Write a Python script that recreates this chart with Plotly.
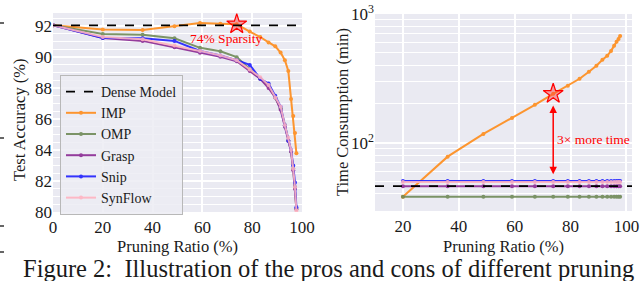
import plotly.graph_objects as go
import math

# ---------------- data ----------------
sparsity = [0, 20, 36, 48.8, 59.04, 67.23, 73.79, 79.03, 83.22, 86.58,
            89.26, 91.41, 93.13, 94.50, 95.60, 96.48, 97.19, 97.75]

acc_imp = [92.06, 91.78, 91.75, 92.0, 92.2, 92.15, 92.12, 91.65, 91.3, 90.95,
           90.7, 90.3, 89.8, 89.1, 87.3, 86.2, 85.1, 83.8]
acc_omp = [92.06, 91.5, 91.45, 91.22, 90.6, 90.38, 90.0, 89.2, 88.6, 88.2,
           87.4, 86.7, 85.6, 84.6, 83.9, 82.8, 81.6, 80.2]
acc_grasp = [92.06, 91.24, 91.05, 90.64, 90.28, 90.03, 89.73, 89.1, 88.6, 88.0,
             87.4, 86.6, 85.5, 84.6, 83.9, 82.7, 81.5, 80.2]
acc_snip = [92.06, 91.24, 91.22, 91.05, 90.4, 90.1, 89.8, 89.5, 88.6, 88.3,
            87.5, 86.8, 85.6, 84.6, 84.0, 83.0, 81.9, 80.3]
acc_synflow = [92.06, 91.3, 91.15, 90.75, 90.4, 90.1, 89.8, 89.2, 88.7, 88.2,
               87.4, 86.8, 85.6, 84.8, 84.0, 82.8, 81.6, 80.1]
acc_dense = 92.05

time_sparsity = sparsity[1:]
time_imp = [38, 78, 117, 156, 197, 240, 277, 314, 356, 396, 441, 473, 517,
            566, 608, 640, 676]
time_omp = [38] * len(time_sparsity)
time_grasp = [46] * len(time_sparsity)
time_snip = [50.5] * len(time_sparsity)
time_synflow = [49.5] * len(time_sparsity)
time_dense = 46

star_sparsity = 73.79
star_acc = 92.12
star_time = 240
arrow_low = 57
arrow_high = 200

x_ticks = [0, 20, 40, 60, 80, 100]
x2_ticks = [20, 40, 60, 80, 100]
y2_ticks = [100, 1000]
y2_ticktext = ["10<sup>2</sup>", "10<sup>3</sup>"]
y2_minor = [30, 40, 50, 60, 70, 80, 90, 200, 300, 400, 500, 600, 700, 800, 900]

# ---------------- styling ----------------
FONT = "Liberation Serif"
TXT = "#1a1a1a"
W, H = 640, 281
BG = "#EAEAF2"

colors = {
    "IMP": "#ff8c1a",
    "OMP": "#6f8a57",
    "Grasp": "#8b2a93",
    "Snip": "#2020ff",
    "SynFlow": "#ffb3c1",
}

fig = go.Figure()

fig.add_trace(go.Scatter(x=[None], y=[None], mode="lines", name="Dense Model",
                         line=dict(color="black", dash="dash", width=1.8),
                         xaxis="x", yaxis="y"))

left_series = [("IMP", acc_imp), ("OMP", acc_omp), ("Grasp", acc_grasp),
               ("Snip", acc_snip), ("SynFlow", acc_synflow)]
for name, vals in left_series:
    fig.add_trace(go.Scatter(x=sparsity, y=vals, mode="lines+markers", name=name,
                             line=dict(color=colors[name], width=2),
                             marker=dict(size=4, color=colors[name]),
                             opacity=0.9, xaxis="x", yaxis="y"))

right_series = [("IMP", time_imp), ("OMP", time_omp), ("Grasp", time_grasp),
                ("Snip", time_snip), ("SynFlow", time_synflow)]
for name, vals in right_series:
    fig.add_trace(go.Scatter(x=time_sparsity, y=vals, mode="lines+markers", name=name,
                             line=dict(color=colors[name], width=2),
                             marker=dict(size=4, color=colors[name]),
                             opacity=0.9, showlegend=False, xaxis="x2", yaxis="y2"))

fig.add_trace(go.Scatter(x=[star_sparsity], y=[star_acc], mode="markers", showlegend=False,
                         marker=dict(symbol="star", size=15, color="rgba(255,60,60,0.45)",
                                     line=dict(color="red", width=1.2)),
                         xaxis="x", yaxis="y"))
fig.add_trace(go.Scatter(x=[star_sparsity], y=[star_time], mode="markers", showlegend=False,
                         marker=dict(symbol="star", size=15, color="rgba(255,60,60,0.45)",
                                     line=dict(color="red", width=1.2)),
                         xaxis="x2", yaxis="y2"))

fig.add_shape(type="line", xref="x domain", yref="y", x0=0, x1=1, y0=acc_dense, y1=acc_dense,
              line=dict(color="black", dash="dash", width=1.6))
fig.add_shape(type="line", xref="x2 domain", yref="y2", x0=0, x1=1, y0=time_dense, y1=time_dense,
              line=dict(color="black", dash="dash", width=1.6))

L = (53, 302, 13, 212)
R = (375, 632, 14, 211)

def dom_x(a, b):
    return [a / W, b / W]

def dom_y(t, b):
    return [1 - b / H, 1 - t / H]

axis_common = dict(showline=False, zeroline=False, ticks="", gridcolor="white",
                   gridwidth=1.5, automargin=False,
                   tickfont=dict(family=FONT, size=17, color=TXT))

fig.update_layout(
    width=W, height=H, margin=dict(l=0, r=0, t=0, b=0, autoexpand=False),
    paper_bgcolor="white", plot_bgcolor=BG,
    font=dict(family=FONT, color=TXT),
    xaxis=dict(domain=dom_x(L[0], L[1]), range=[0, 100], tickvals=x_ticks,
               anchor="y", ticklabelstandoff=3, **axis_common),
    yaxis=dict(domain=dom_y(L[2], L[3]), range=[80, 92.85], dtick=2, tick0=80,
               anchor="x",
               minor=dict(dtick=0.5, showgrid=True, gridcolor="white", gridwidth=0.7),
               **axis_common),
    xaxis2=dict(domain=dom_x(R[0], R[1]), range=[10, 102], tickvals=x2_ticks,
                anchor="y2", ticklabelstandoff=3, **axis_common),
    yaxis2=dict(domain=dom_y(R[2], R[3]), type="log",
                range=[math.log10(29.5), 3.0], tickvals=y2_ticks, ticktext=y2_ticktext,
                anchor="x2",
                minor=dict(tickvals=y2_minor, showgrid=True, gridcolor="white", gridwidth=0.8),
                **axis_common),
    legend=dict(x=60 / W, y=1 - 75 / H, xanchor="left", yanchor="top",
                bgcolor="rgba(236,236,243,0.85)", bordercolor="#b8b8b8", borderwidth=1,
                font=dict(family=FONT, size=14, color=TXT), itemwidth=30,
                tracegroupgap=0),
    showlegend=True,
)

def A(text, x, y, size=16.5, color=TXT, xref="paper", yref="paper", angle=0,
      xanchor="center", yanchor="middle"):
    return dict(text=text, x=x, y=y, xref=xref, yref=yref, textangle=angle,
                xanchor=xanchor, yanchor=yanchor, showarrow=False,
                font=dict(family=FONT, size=size, color=color))

ann = [
    A("Test Accuracy (%)", 20 / W, 1 - 120 / H, angle=-90),
    A("Pruning Ratio (%)", (L[0] + L[1]) / 2 / W, 1 - 246 / H),
    A("Time Consumption (min)", 342 / W, 1 - 112 / H, angle=-90),
    A("Pruning Ratio (%)", (R[0] + R[1]) / 2 / W, 1 - 246 / H),
    A("74% Sparsity", 69.8, 91.2, size=13.5, color="red", xref="x", yref="y"),
    A("3\u00d7 more time", 74.4, math.log10(106), size=13.5, color="red", xref="x2",
      yref="y2", xanchor="left"),
    A("Figure 2:\u00a0 Illustration of the pros and cons of different pruning",
      21 / W, 1 - 268 / H, size=24.5, xanchor="left"),
    dict(text="", x=star_sparsity, y=math.log10(arrow_low), ax=star_sparsity,
         ay=math.log10(arrow_high), xref="x2", yref="y2", axref="x2", ayref="y2",
         showarrow=True, arrowhead=2, arrowside="end+start", arrowsize=1,
         arrowwidth=1.5, arrowcolor="red"),
]
fig.update_layout(annotations=ann)

for yy in [23, 138, 226, 252]:
    fig.add_shape(type="line", xref="paper", yref="paper", x0=0, x1=4 / W,
                  y0=1 - yy / H, y1=1 - yy / H, line=dict(color="black", width=1.2))

fig.write_html("out.html", config={"displayModeBar": False},
               post_script="document.body.style.margin='0px';")
